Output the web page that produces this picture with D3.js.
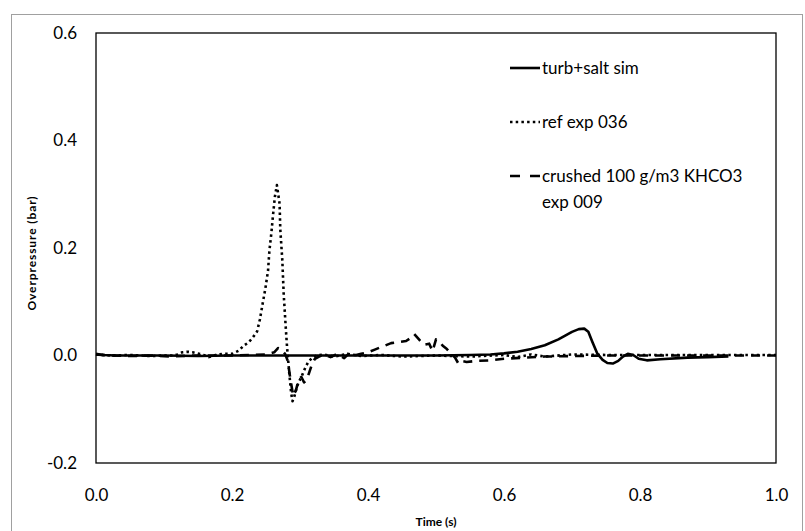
<!DOCTYPE html>
<html>
<head>
<meta charset="utf-8">
<script src="https://cdn.jsdelivr.net/npm/d3@7"></script>
<style>
  body { margin: 0; background: #fff; }
  text { font-family: Lato, "Open Sans", sans-serif; fill: #000; }
</style>
</head>
<body>
<div id="chart"></div>
<script>
// overpressure traces

// turb+salt sim (solid)
var simT = [0, 0.01, 0.03, 0.1, 0.15, 0.2, 0.25, 0.3, 0.35, 0.4, 0.45, 0.5, 0.55, 0.58, 0.6, 0.62, 0.64, 0.66,
  0.68, 0.69, 0.70, 0.71, 0.718, 0.724, 0.73, 0.737, 0.745, 0.752, 0.76, 0.768, 0.775, 0.782, 0.79, 0.798,
  0.81, 0.83, 0.87, 0.9, 0.93];
var simP = [0.003, 0.001, 0, 0, -0.001, 0, 0, 0, 0, 0, 0, 0, 0.001, 0.002, 0.004, 0.007, 0.012, 0.019,
  0.03, 0.037, 0.044, 0.049, 0.05, 0.044, 0.025, 0.004, -0.008, -0.014, -0.015, -0.01, -0.002, 0.003, 0.001, -0.006,
  -0.009, -0.007, -0.004, -0.003, -0.002];

// ref exp 036 (dotted)
var refT = [0, 0.02, 0.05, 0.08, 0.1, 0.115, 0.12, 0.127, 0.135, 0.142, 0.149, 0.158, 0.166, 0.176, 0.186, 0.2,
  0.21, 0.217, 0.225, 0.232, 0.237, 0.241, 0.245, 0.249, 0.253, 0.255, 0.258, 0.26, 0.263, 0.266, 0.268, 0.27,
  0.271, 0.274, 0.276, 0.279, 0.281, 0.284, 0.287, 0.289, 0.292, 0.295, 0.298, 0.302, 0.307, 0.312, 0.318, 0.325,
  0.335, 0.35, 0.37, 0.39, 0.42, 0.45, 0.5, 0.55, 0.6, 0.62, 0.64, 0.66, 0.7, 0.75, 0.8, 0.85, 0.9, 0.95, 1.0];
var refP = [0.002, 0, 0.001, -0.001, 0, 0, 0.002, 0.006, 0.007, 0.006, 0.004, 0.001, -0.003, 0.001, 0.003, 0.003,
  0.009, 0.018, 0.025, 0.036, 0.045, 0.067, 0.096, 0.124, 0.158, 0.195, 0.229, 0.257, 0.295, 0.317, 0.30, 0.282,
  0.235, 0.177, 0.115, 0.053, 0.015, -0.03, -0.07, -0.085, -0.075, -0.06, -0.05, -0.04, -0.025, -0.012, -0.004, 0,
  0.002, -0.002, 0.003, -0.001, 0.001, -0.002, 0, -0.002, 0.001, -0.003, 0.002, -0.002, 0.002, 0.001, 0.001, 0.001, 0.001, 0.001, 0.001];

// crushed 100 g/m3 KHCO3 exp 009 (dashed)
var crushT = [0, 0.02, 0.05, 0.08, 0.11, 0.14, 0.17, 0.2, 0.23, 0.25, 0.262, 0.268, 0.273, 0.278, 0.282, 0.286,
  0.29, 0.294, 0.298, 0.302, 0.306, 0.31, 0.314, 0.318, 0.322, 0.328, 0.335, 0.345, 0.355, 0.365, 0.372, 0.38,
  0.39, 0.4, 0.41, 0.42, 0.434, 0.445, 0.456, 0.463, 0.468, 0.475, 0.482, 0.49, 0.495, 0.5, 0.504, 0.51, 0.516,
  0.522, 0.528, 0.533, 0.537, 0.545, 0.56, 0.58, 0.6, 0.63, 0.66, 0.7, 0.75, 0.8, 0.85, 0.9, 0.95, 1.0];
var crushP = [0.002, 0, -0.001, 0, -0.002, 0, 0, 0, 0.001, 0.002, 0.006, 0.014, 0.01, 0.003, -0.01, -0.045,
  -0.075, -0.065, -0.045, -0.04, -0.05, -0.045, -0.03, -0.015, -0.006, -0.002, 0.002, -0.003, 0.003, -0.005, 0.004, 0,
  0.003, 0.006, 0.011, 0.016, 0.023, 0.025, 0.027, 0.033, 0.04, 0.03, 0.02, 0.022, 0.008, 0.03, 0.028, 0.018, 0.012,
  0.004, -0.004, -0.015, -0.01, -0.012, -0.01, -0.009, -0.006, -0.004, -0.002, -0.001, 0, 0, 0, 0, 0, 0];

var xTicks = [0, 0.2, 0.4, 0.6, 0.8, 1.0];
var yTicks = [-0.2, 0, 0.2, 0.4, 0.6];

var legendNames = ["turb+salt sim", "ref exp 036", "crushed 100 g/m3 KHCO3"];

// layout
var width = 805;
var height = 531;
var plot = { left: 96, right: 776, top: 33, bottom: 463 };

var svg = d3.select("#chart")
  .append("svg")
  .attr("width", width)
  .attr("height", height);

// outer chart frame (bottom runs off the picture)
svg.append("rect")
  .attr("x", 11.5).attr("y", 14.5)
  .attr("width", 791).attr("height", 540)
  .attr("fill", "none")
  .attr("stroke", "#a0a0a0")
  .attr("stroke-width", 1);

var x = d3.scaleLinear().domain([0, 1]).range([plot.left, plot.right]);
var y = d3.scaleLinear().domain([-0.2, 0.6]).range([plot.bottom, plot.top]);

// plot area border
svg.append("rect")
  .attr("x", plot.left).attr("y", plot.top)
  .attr("width", plot.right - plot.left)
  .attr("height", plot.bottom - plot.top)
  .attr("fill", "none")
  .attr("stroke", "#000")
  .attr("stroke-width", 1.3);

// hyphen minus like the original, not the unicode minus
var fmt = function(d) { return d.toFixed(1); };

var yAxis = svg.append("g")
  .attr("transform", "translate(" + plot.left + ",0)")
  .call(d3.axisLeft(y).tickValues(yTicks).tickSize(0).tickPadding(19).tickFormat(fmt));
var xAxis = svg.append("g")
  .attr("transform", "translate(0," + plot.bottom + ")")
  .call(d3.axisBottom(x).tickValues(xTicks).tickSize(0).tickPadding(26).tickFormat(fmt));

[xAxis, yAxis].forEach(function(a) {
  a.select(".domain").remove();
  a.selectAll("text")
    .style("font-family", "Lato, 'Open Sans', sans-serif")
    .style("font-size", "17px")
    .attr("fill", "#000");
});

// axis titles
svg.append("text")
  .attr("x", (plot.left + plot.right) / 2)
  .attr("y", 526)
  .attr("text-anchor", "middle")
  .style("font-size", "12px")
  .style("font-weight", "bold")
  .text("Time (s)");

svg.append("text")
  .attr("transform", "translate(36," + 253 + ") rotate(-90)")
  .attr("text-anchor", "middle")
  .style("font-size", "12px")
  .style("font-weight", "bold")
  .style("letter-spacing", "0.9px")
  .text("Overpressure (bar)");

// series
function zipSeries(ts, ps) {
  return ts.map(function(t, i) { return [t, ps[i]]; });
}

var line = d3.line()
  .x(function(d) { return x(d[0]); })
  .y(function(d) { return y(d[1]); });

var series = [
  { data: zipSeries(refT, refP), width: 2.6, dash: "2.5,3.2" },
  { data: zipSeries(crushT, crushP), width: 2.6, dash: "9,7" },
  { data: zipSeries(simT, simP), width: 2.6, dash: null }
];

svg.selectAll(".series")
  .data(series)
  .enter()
  .append("path")
  .attr("class", "series")
  .attr("d", function(d) { return line(d.data); })
  .attr("fill", "none")
  .attr("stroke", "#000")
  .attr("stroke-width", function(d) { return d.width; })
  .attr("stroke-dasharray", function(d) { return d.dash; })
  .attr("stroke-linejoin", "round");

// legend
var legendY = [68, 122, 176];
var legendStyle = [series[2], series[0], series[1]];

var legend = svg.append("g");
legendNames.forEach(function(name, i) {
  legend.append("line")
    .attr("x1", 510).attr("x2", 540)
    .attr("y1", legendY[i]).attr("y2", legendY[i])
    .attr("stroke", "#000")
    .attr("stroke-width", legendStyle[i].width)
    .attr("stroke-dasharray", i == 2 ? "10,10" : legendStyle[i].dash);
  legend.append("text")
    .attr("x", 542)
    .attr("y", legendY[i] + 6)
    .style("font-size", "17px")
    .text(name);
});
legend.append("text")
  .attr("x", 542)
  .attr("y", 208)
  .style("font-size", "17px")
  .text("exp 009");
</script>
</body>
</html>
